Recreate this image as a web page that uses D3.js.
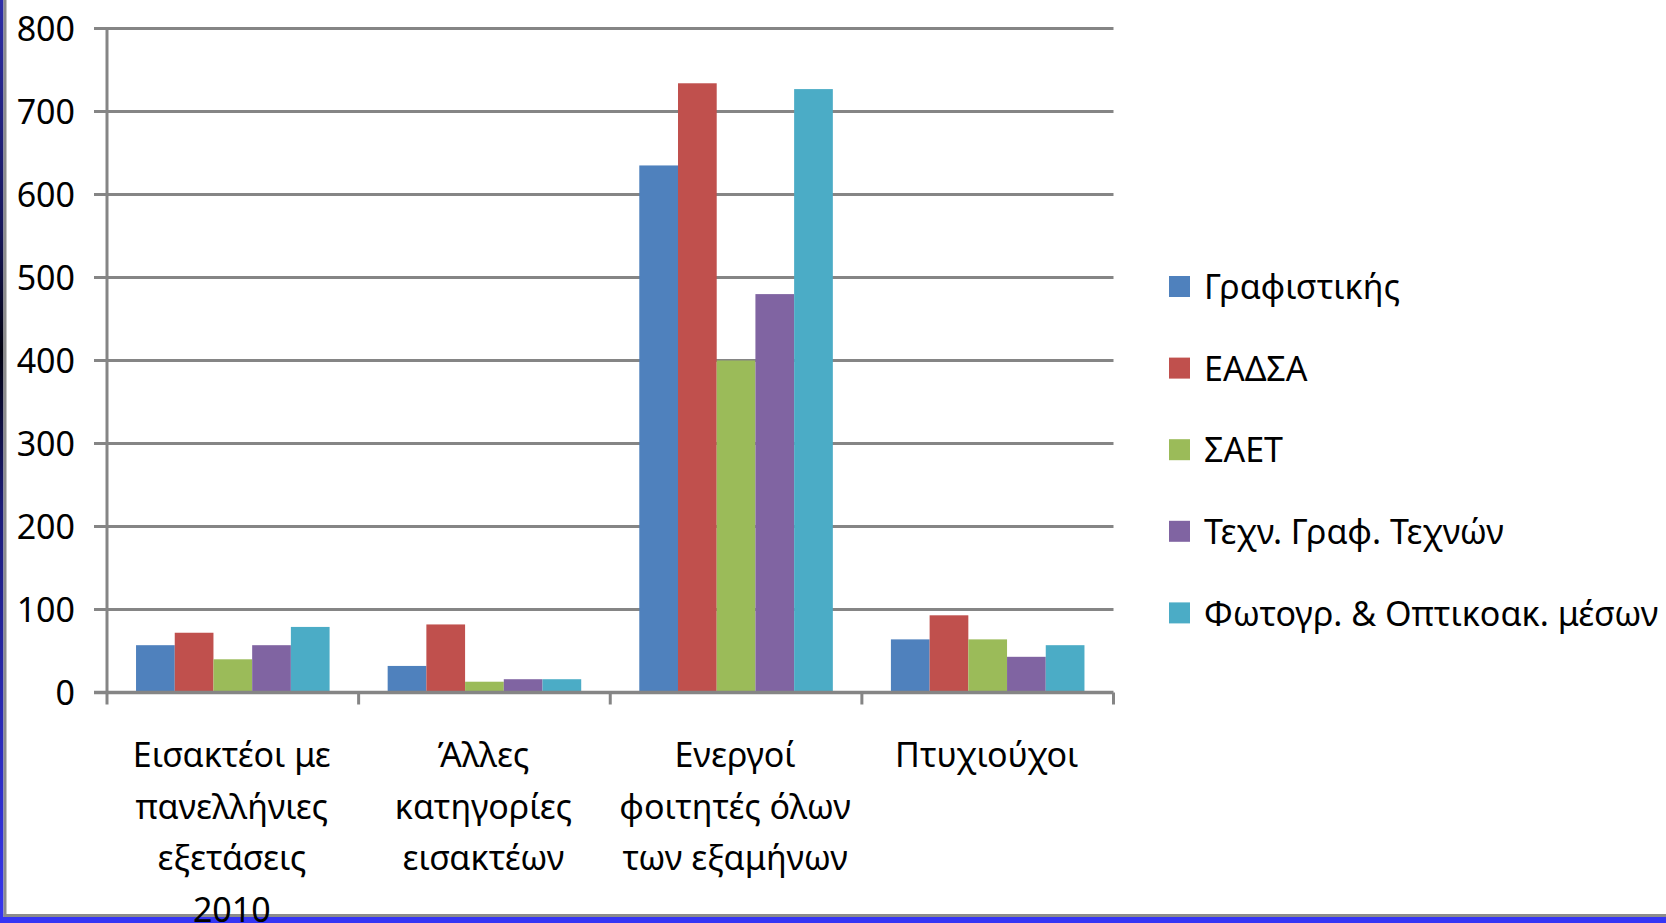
<!DOCTYPE html>
<meta charset="utf-8">
<style>
body { margin: 0; background: #fff; }
svg { display: block; }
text { font-family: "Noto Sans", sans-serif; fill: #000; }
</style>
<svg width="1666" height="923"></svg>
<script src="https://d3js.org/d3.v7.min.js"></script>
<script>

// categories (line breaks as in the original labels)
var categories = [
  "Εισακτέοι με\nπανελλήνιες\nεξετάσεις\n2010",
  "Άλλες\nκατηγορίες\nεισακτέων",
  "Ενεργοί\nφοιτητές όλων\nτων εξαμήνων",
  "Πτυχιούχοι"
];

var series = ["Γραφιστικής", "ΕΑΔΣΑ", "ΣΑΕΤ", "Τεχν. Γραφ. Τεχνών", "Φωτογρ. & Οπτικοακ. μέσων"];

var grafistikis = [57, 32, 635, 64];
var eadsa       = [72, 82, 734, 93];
var saet        = [40, 13, 400, 64];
var technGraf   = [57, 16, 480, 43];
var fotogr      = [79, 16, 727, 57];

var yTicks = [0, 100, 200, 300, 400, 500, 600, 700, 800];

var colors = ["#4F81BD", "#C0504D", "#9BBB59", "#8064A2", "#4BACC6"];

var values = [grafistikis, eadsa, saet, technGraf, fotogr];

var svg = d3.select("svg"),
    width = +svg.attr("width"),
    height = +svg.attr("height");

var plotLeft = 107, plotRight = 1113.5, plotTop = 28.5, plotBottom = 692.5;

var x0 = d3.scaleBand().domain(categories).range([plotLeft, plotRight]).padding(0);
var x1 = d3.scaleBand().domain(series).range([0, x0.bandwidth()])
    .paddingInner(0).paddingOuter(0.75);
var y = d3.scaleLinear().domain([0, 800]).range([plotBottom, plotTop]);
var color = d3.scaleOrdinal().domain(series).range(colors);

// slide frame
var defs = svg.append("defs");
var grad = defs.append("linearGradient").attr("id", "leftEdge")
    .attr("x1", 0).attr("y1", 0).attr("x2", 0).attr("y2", 1);
grad.append("stop").attr("offset", "0").attr("stop-color", "#2e2ea8");
grad.append("stop").attr("offset", "0.25").attr("stop-color", "#16165a");
grad.append("stop").attr("offset", "0.38").attr("stop-color", "#020210");
grad.append("stop").attr("offset", "0.55").attr("stop-color", "#1c1c78");
grad.append("stop").attr("offset", "1").attr("stop-color", "#3636f0");

svg.append("rect").attr("x", 0).attr("y", 0).attr("width", 3.5).attr("height", height)
    .attr("fill", "url(#leftEdge)");
svg.append("rect").attr("x", 3.5).attr("y", 0).attr("width", 3).attr("height", 917)
    .attr("fill", "#8c8c8c");
svg.append("rect").attr("x", 3.5).attr("y", 914).attr("width", width).attr("height", 3)
    .attr("fill", "#8c8c8c");
svg.append("rect").attr("x", 0).attr("y", 917).attr("width", width).attr("height", 6)
    .attr("fill", "#3535f5");

// gridlines
svg.append("g").selectAll("line")
  .data(yTicks.filter(d => d > 0))
  .enter().append("line")
    .attr("x1", 94).attr("x2", plotRight)
    .attr("y1", d => y(d)).attr("y2", d => y(d))
    .attr("stroke", "#858585").attr("stroke-width", 3);

// bars
var groups = svg.append("g").selectAll("g")
  .data(categories)
  .enter().append("g")
    .attr("transform", d => "translate(" + x0(d) + ",0)");

groups.selectAll("rect")
  .data((c, ci) => series.map((s, si) => ({ s: s, v: values[si][ci] })))
  .enter().append("rect")
    .attr("x", d => x1(d.s))
    .attr("width", x1.bandwidth())
    .attr("y", d => y(d.v))
    .attr("height", d => y(0) - y(d.v))
    .attr("fill", d => color(d.s));

// axes
svg.append("line")
    .attr("x1", plotLeft).attr("x2", plotLeft).attr("y1", plotTop).attr("y2", y(0) + 12)
    .attr("stroke", "#858585").attr("stroke-width", 3);
svg.append("line")
    .attr("x1", 94).attr("x2", plotRight).attr("y1", y(0)).attr("y2", y(0))
    .attr("stroke", "#858585").attr("stroke-width", 3.5);

var bounds = categories.map(c => x0(c)).concat([plotRight]);
svg.append("g").selectAll("line")
  .data(bounds.slice(1))
  .enter().append("line")
    .attr("x1", d => d).attr("x2", d => d)
    .attr("y1", y(0)).attr("y2", y(0) + 12)
    .attr("stroke", "#858585").attr("stroke-width", 3);

// y tick labels
var tickFs = 34;
svg.append("g").selectAll("text")
  .data(yTicks)
  .enter().append("text")
    .attr("x", 75)
    .attr("y", d => y(d) + tickFs * 0.357)
    .attr("text-anchor", "end")
    .style("font-size", tickFs + "px")
    .text(d => d);

// category labels
var catFs = 34;
var catText = svg.append("g").selectAll("text")
  .data(categories)
  .enter().append("text")
    .attr("text-anchor", "middle")
    .style("font-size", catFs + "px");

catText.selectAll("tspan")
  .data(d => d.split("\n").map(line => ({ line: line, c: d })))
  .enter().append("tspan")
    .attr("x", d => x0(d.c) + x0.bandwidth() / 2 - 1)
    .attr("y", (d, i) => 767 + i * 51.5)
    .text(d => d.line);

// legend
var legFs = 34;
var legend = svg.append("g").selectAll("g")
  .data(series)
  .enter().append("g")
    .attr("transform", (d, i) => "translate(1169," + (287 + i * 81.6) + ")");

legend.append("rect")
    .attr("x", 0).attr("y", -11)
    .attr("width", 21).attr("height", 21)
    .attr("fill", d => color(d));

legend.append("text")
    .attr("x", 35)
    .attr("y", legFs * 0.357)
    .style("font-size", legFs + "px")
    .text(d => d);

</script>
